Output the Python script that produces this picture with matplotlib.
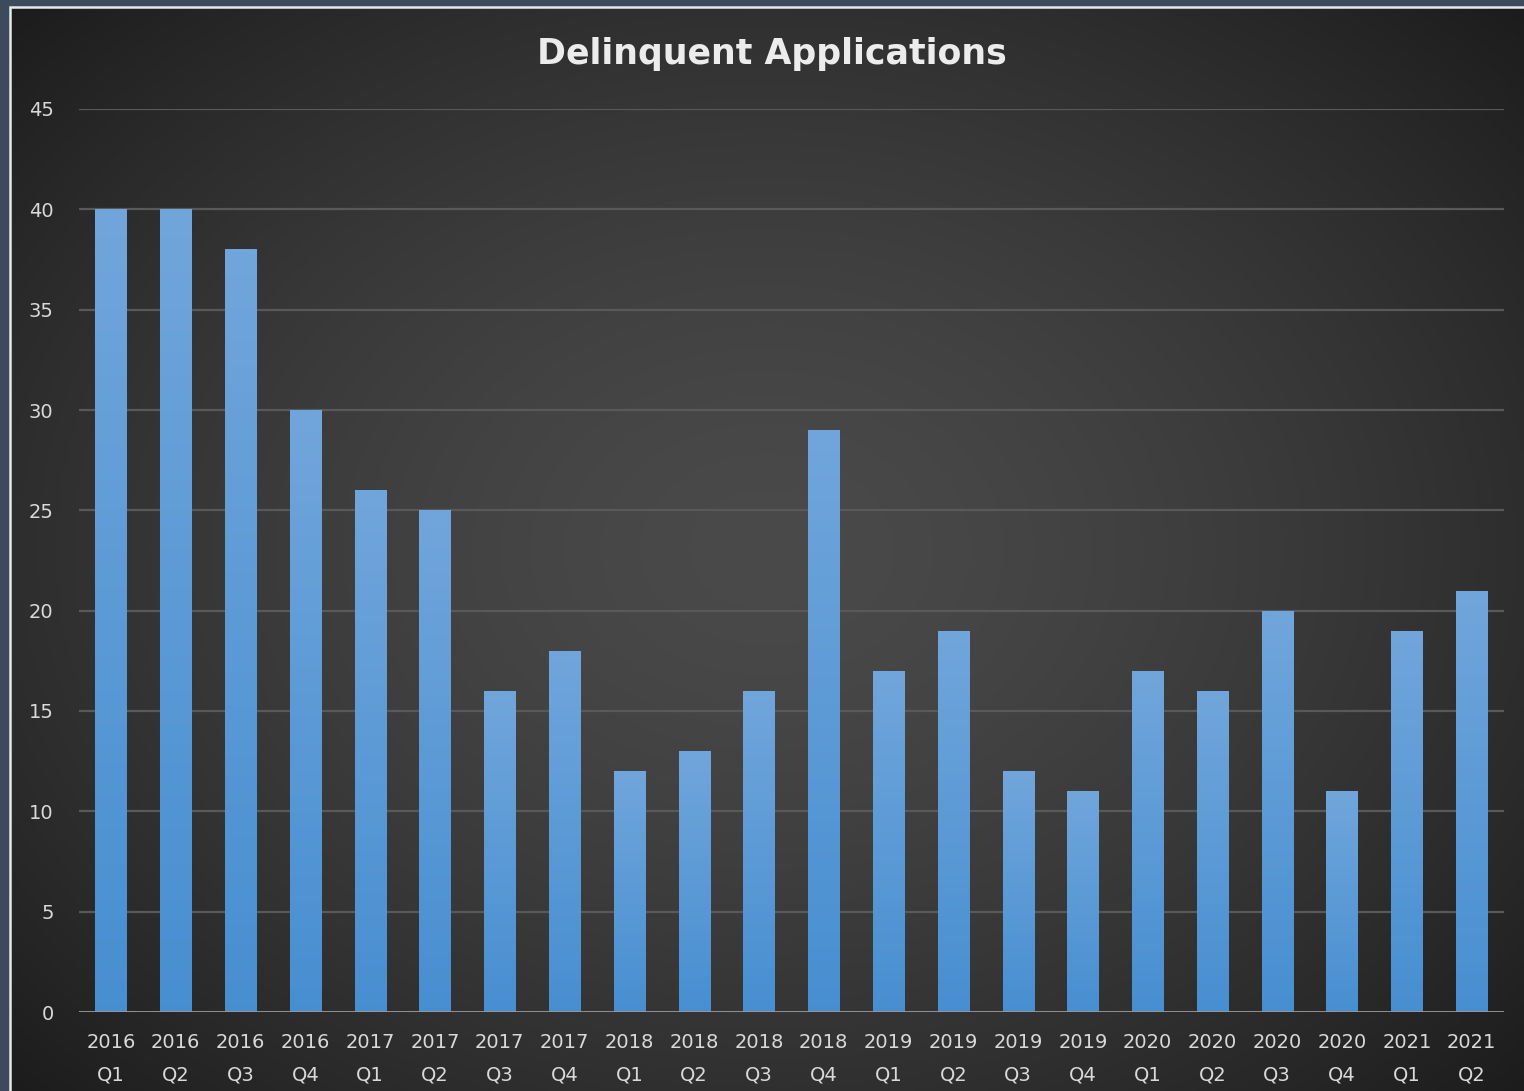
import numpy as np
import matplotlib.pyplot as plt
from matplotlib.patches import Rectangle

years = ['2016', '2016', '2016', '2016', '2017', '2017', '2017', '2017',
         '2018', '2018', '2018', '2018', '2019', '2019', '2019', '2019',
         '2020', '2020', '2020', '2020', '2021', '2021']
quarters = ['Q1', 'Q2', 'Q3', 'Q4', 'Q1', 'Q2', 'Q3', 'Q4',
            'Q1', 'Q2', 'Q3', 'Q4', 'Q1', 'Q2', 'Q3', 'Q4',
            'Q1', 'Q2', 'Q3', 'Q4', 'Q1', 'Q2']
delinquent = [40, 40, 38, 30, 26, 25, 16, 18, 12, 13, 16, 29,
              17, 19, 12, 11, 17, 16, 20, 11, 19, 21]
yticks = [0, 5, 10, 15, 20, 25, 30, 35, 40, 45]

W, H = 1524, 1091
fig = plt.figure(figsize=(W / 100, H / 100), dpi=100)
fig.patch.set_facecolor('#3b4a5d')

# chart background with radial shading
bg = fig.add_axes([11 / W, 0, 1 - 11 / W, 1 - 8 / H])
bg.set_axis_off()
gx, gy = np.meshgrid(np.linspace(-1, 1, 400), np.linspace(-1, 1, 300))
r = np.sqrt((gx * 0.95) ** 2 + (gy * 0.9) ** 2)
shade = 0.29 - 0.12 * np.clip(r, 0, 1.4) ** 1.5
bg.imshow(np.dstack([shade] * 3), aspect='auto', extent=[0, 1, 0, 1],
          interpolation='bilinear')
bg.set_xlim(0, 1)
bg.set_ylim(0, 1)
fig.add_artist(Rectangle((9.5 / W, -0.01), 1, 1 - 6.5 / H + 0.01,
                         transform=fig.transFigure, fill=False,
                         edgecolor='#e8e8e8', linewidth=1.8))

ax = fig.add_axes([78.6 / W, 1 - 1012 / H, (1504 - 78.6) / W, (1012 - 109) / H])
ax.set_facecolor('none')
x = np.arange(len(delinquent))
bars = ax.bar(x, delinquent, width=0.48, color='#5b9bd5', zorder=3)

# vertical gradient on each bar
grad = np.linspace(0, 1, 256).reshape(-1, 1)
top = np.array([0.44, 0.65, 0.86])
bot = np.array([0.28, 0.56, 0.82])
img = bot + (top - bot) * grad[..., None]
for b in bars:
    im = ax.imshow(img, extent=[b.get_x(), b.get_x() + b.get_width(), 0, b.get_height()],
                   origin='lower', aspect='auto', zorder=3, interpolation='bilinear')
    im.set_clip_path(b)

ax.set_xlim(-0.5, len(delinquent) - 0.5)
ax.set_ylim(0, 45)
ax.set_yticks(yticks)
ax.set_yticklabels([str(t) for t in yticks])
ax.set_xticks(x)
ax.set_xticklabels([f'{y}\n{q}' for y, q in zip(years, quarters)], linespacing=1.9)
for s in ax.spines.values():
    s.set_visible(False)
ax.tick_params(length=0, colors='#d9d9d9', labelsize=14)
ax.tick_params(axis='y', pad=18)
ax.tick_params(axis='x', pad=15)
for t in yticks[1:]:
    ax.axhline(t, color='#595959', linewidth=1.6, zorder=1)
ax.axhline(0, color='#9a9a9a', linewidth=2, zorder=4)

fig.text(772 / W, 1 - 54 / H, 'Delinquent Applications', ha='center', va='center',
         color='#ececec', fontsize=25, fontweight='bold', family='DejaVu Sans')

fig.savefig('out.png', dpi=100, facecolor=fig.get_facecolor())
